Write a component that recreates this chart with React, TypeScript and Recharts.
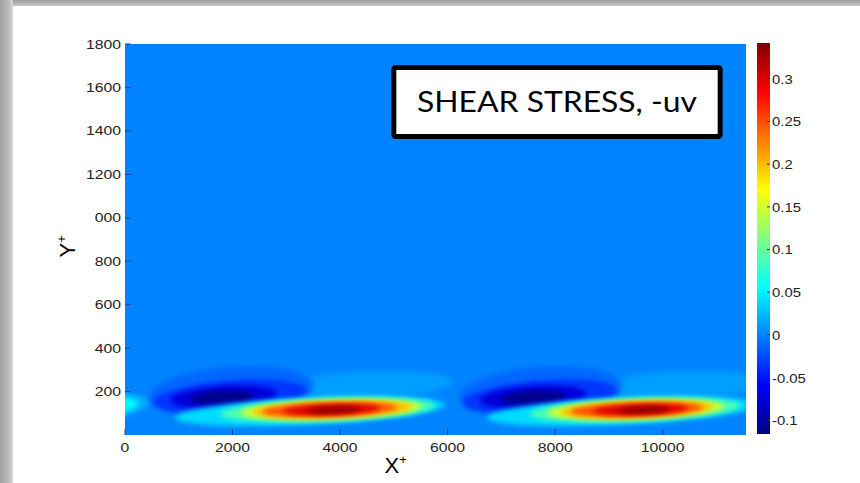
import React from 'react';
import { ComposedChart, BarChart, Bar, XAxis, YAxis, ReferenceArea } from 'recharts';

// contour rings: [xStart, xEnd, yAtStart, yAtEnd, halfDepth, value]
type Ring = number[];

const xTicks = [0, 2000, 4000, 6000, 8000, 10000];
const yTicks = [200, 400, 600, 800, 1000, 1200, 1400, 1600, 1800];
const yTickLabels = ['200', '400', '600', '800', '000', '1200', '1400', '1600', '1800'];
const cbTicks = [-0.1, -0.05, 0, 0.05, 0.1, 0.15, 0.2, 0.25, 0.3];
const cbTickLabels = ['-0.1', '-0.05', '0', '0.05', '0.1', '0.15', '0.2', '0.25', '0.3'];

const xMax = 11550;
const yMax = 1800;
const cbMin = -0.116;
const cbMax = 0.342;
const fieldBase = 0;

// tail of the previous wave entering at x = 0
const edgeTail: Ring[] = [
  [-1800, 450, 100, 150, 64, 0.02],
  [-1800, 250, 105, 145, 50, 0.055],
];

const liftHalo1: Ring[] = [[3000, 6100, 215, 245, 65, 0.012]];
const sweep1: Ring[] = [
  [450, 3500, 175, 225, 115, -0.012],
  [520, 3380, 150, 205, 74, -0.035],
  [840, 2830, 160, 190, 52, -0.075],
  [1210, 2390, 165, 180, 32, -0.11],
];
const burst1: Ring[] = [
  [930, 5950, 80, 140, 62, 0.04],
  [1770, 5770, 96, 136, 52, 0.09],
  [2140, 5520, 102, 132, 44, 0.15],
  [2360, 5340, 105, 130, 38, 0.2],
  [2550, 5060, 107, 128, 31, 0.25],
  [2940, 4740, 109, 124, 24, 0.3],
  [3380, 4370, 111, 120, 16, 0.335],
];

const liftHalo2: Ring[] = [[8800, 11900, 215, 245, 65, 0.012]];
const sweep2: Ring[] = [
  [6220, 9250, 175, 225, 115, -0.012],
  [6280, 9140, 150, 205, 74, -0.035],
  [6600, 8590, 160, 190, 52, -0.075],
  [6975, 8200, 165, 180, 32, -0.11],
];
const burst2: Ring[] = [
  [6730, 11750, 80, 140, 62, 0.04],
  [7530, 11450, 96, 136, 52, 0.09],
  [7850, 11150, 102, 132, 44, 0.15],
  [8090, 10940, 105, 130, 38, 0.2],
  [8280, 10750, 107, 128, 31, 0.25],
  [8700, 10470, 109, 124, 24, 0.3],
  [9150, 10140, 111, 120, 16, 0.335],
];

const noteText = 'SHEAR STRESS, -uv';
const noteBox = { x1: 5000, x2: 11070, y1: 1374, y2: 1692 };

const allRings = [...edgeTail, ...liftHalo1, ...liftHalo2, ...sweep1, ...sweep2, ...burst1, ...burst2];

const jet = (v: number) => {
  const t = Math.min(1, Math.max(0, (v - cbMin) / (cbMax - cbMin)));
  const c = (k: number) => Math.round(255 * Math.min(1, Math.max(0, 1.5 - Math.abs(4 * t - k))));
  return `rgb(${c(3)},${c(2)},${c(1)})`;
};

const jetStops = [1, 0.875, 0.625, 0.375, 0.125, 0];
const jetStopColors = ['#800000', '#ff0000', '#ffff00', '#00ffff', '#0000ff', '#000080'];

const FONT = '"Liberation Sans", Arial, sans-serif';

// sheared ellipse, sized from the rect that recharts computed for the ring's extent
const RingShape = (p: any) => {
  const { x, y, width, height, ring, clipPath } = p;
  const [x0, x1, yl, yr, h, v] = ring;
  const yTop = Math.max(yl, yr) + h;
  const yBot = Math.min(yl, yr) - h;
  const kx = width / (x1 - x0);
  const ky = height / (yTop - yBot);
  const cx = (x0 + x1) / 2;
  const a = (x1 - x0) / 2;
  const pts: string[] = [];
  for (let i = 0; i < 90; i++) {
    const th = (i / 90) * Math.PI * 2;
    const dx = cx + a * Math.cos(th);
    const mid = yl + ((yr - yl) * (dx - x0)) / (x1 - x0);
    const dy = mid + h * Math.sin(th);
    pts.push(`${(x + (dx - x0) * kx).toFixed(2)},${(y + (yTop - dy) * ky).toFixed(2)}`);
  }
  return (
    <g clipPath={clipPath}>
      <polygon points={pts.join(' ')} fill={jet(v)} filter="url(#soften)" />
    </g>
  );
};

const NoteShape = (p: any) => {
  const { x, y, width, height } = p;
  return (
    <g>
      <rect x={x} y={y} width={width} height={height} rx={2} fill="#fff" stroke="#000" strokeWidth={5} />
      <text
        x={x + width / 2}
        y={y + height / 2 + 10}
        textAnchor="middle"
        fontFamily="Lato, 'Open Sans', sans-serif"
        fontSize={28}
        textLength={280}
        lengthAdjust="spacingAndGlyphs"
        fill="#000"
      >
        {noteText}
      </text>
    </g>
  );
};

const StretchTick = (p: any) => {
  const { x, y, payload, anchor, labels, values, dy, size, sx } = p;
  const idx = values.indexOf(payload.value);
  const label = idx >= 0 ? labels[idx] : String(payload.value);
  return (
    <g transform={`translate(${x},${y}) scale(${sx},1)`}>
      <text x={0} y={0} dy={dy} textAnchor={anchor} fontFamily={FONT} fontSize={size} fill="#222">
        {label}
      </text>
    </g>
  );
};

const YLabel = (p: any) => {
  const vb = p.viewBox;
  const lx = vb.x + 10;
  const ly = vb.y + vb.height / 2 + 18;
  return (
    <text x={lx} y={ly} transform={`rotate(-90, ${lx}, ${ly})`} fontFamily={FONT} fontSize={22} fill="#000">
      <tspan>Y</tspan>
      <tspan dy={-9} fontSize={13}>+</tspan>
    </text>
  );
};

const XLabel = (p: any) => {
  const vb = p.viewBox;
  const lx = vb.x + vb.width * 0.418;
  const ly = vb.y + 38;
  return (
    <text x={lx} y={ly} fontFamily={FONT} fontSize={22} fill="#000">
      <tspan>X</tspan>
      <tspan dy={-9} fontSize={13}>+</tspan>
    </text>
  );
};

const cbData = [{ name: 'cb', span: [cbMin, cbMax] }];

export default function App() {
  return (
    <div style={{ position: 'fixed', left: 0, top: 0, width: 860, height: 483, background: '#fff', overflow: 'hidden' }}>
      <div style={{ position: 'absolute', left: 0, top: 0 }}>
        <ComposedChart width={860} height={483} margin={{ top: 44, right: 114, bottom: 18, left: 65 }}>
          <defs>
            <filter id="soften" filterUnits="userSpaceOnUse" x={0} y={0} width={860} height={483}>
              <feGaussianBlur stdDeviation={2.4} />
            </filter>
          </defs>
          <XAxis
            xAxisId="b"
            type="number"
            dataKey="x"
            domain={[0, xMax]}
            allowDataOverflow
            ticks={xTicks}
            height={30}
            axisLine={false}
            tickSize={-6}
            tickMargin={14}
            tickLine={{ stroke: '#1b3f8f', strokeWidth: 1 }}
            tick={<StretchTick anchor="middle" dy="0.71em" size={12.5} sx={1.26} values={xTicks} labels={xTicks.map(String)} />}
            label={<XLabel />}
          />
          <XAxis
            xAxisId="t"
            orientation="top"
            type="number"
            domain={[0, xMax]}
            allowDataOverflow
            ticks={xTicks}
            height={0}
            axisLine={false}
            tickSize={-6}
            tickLine={{ stroke: '#1b3f8f', strokeWidth: 1 }}
            tick={false}
          />
          <YAxis
            yAxisId="l"
            type="number"
            domain={[0, yMax]}
            allowDataOverflow
            ticks={yTicks}
            width={60}
            axisLine={false}
            tickSize={-6}
            tickMargin={10}
            tickLine={{ stroke: '#1b3f8f', strokeWidth: 1 }}
            tick={<StretchTick anchor="end" dy="0.36em" size={12.5} sx={1.26} values={yTicks} labels={yTickLabels} />}
            label={<YLabel />}
          />
          <YAxis
            yAxisId="r"
            orientation="right"
            type="number"
            domain={[0, yMax]}
            allowDataOverflow
            ticks={yTicks}
            width={0}
            axisLine={false}
            tickSize={-6}
            tickLine={{ stroke: '#1b3f8f', strokeWidth: 1 }}
            tick={false}
          />
          <ReferenceArea xAxisId="b" yAxisId="l" x1={0} x2={xMax} y1={0} y2={yMax} fill={jet(fieldBase)} fillOpacity={1} stroke="none" ifOverflow="hidden" />
          {allRings.map((r, i) => (
            <ReferenceArea
              key={i}
              xAxisId="b"
              yAxisId="l"
              x1={r[0]}
              x2={r[1]}
              y1={Math.min(r[2], r[3]) - r[4]}
              y2={Math.max(r[2], r[3]) + r[4]}
              ifOverflow="hidden"
              shape={(p: any) => <RingShape {...p} ring={r} />}
            />
          ))}
          <ReferenceArea
            xAxisId="b"
            yAxisId="l"
            x1={noteBox.x1}
            x2={noteBox.x2}
            y1={noteBox.y1}
            y2={noteBox.y2}
            ifOverflow="visible"
            shape={(p: any) => <NoteShape {...p} />}
          />
        </ComposedChart>
      </div>

      <div style={{ position: 'absolute', left: 0, top: 0 }}>
        <BarChart width={860} height={483} data={cbData} margin={{ top: 43, right: 10, bottom: 49, left: 757 }} barCategoryGap={0}>
          <defs>
            <linearGradient id="jetGrad" x1="0" y1="0" x2="0" y2="1">
              {jetStops.map((s, i) => (
                <stop key={i} offset={1 - s} stopColor={jetStopColors[i]} />
              ))}
            </linearGradient>
          </defs>
          <XAxis dataKey="name" hide />
          <YAxis
            orientation="right"
            type="number"
            domain={[cbMin, cbMax]}
            allowDataOverflow
            ticks={cbTicks}
            width={80}
            axisLine={false}
            tickSize={-3}
            tickMargin={5}
            tickLine={{ stroke: '#333', strokeWidth: 1 }}
            tick={<StretchTick anchor="start" dy="0.36em" size={13.5} sx={1.1} values={cbTicks} labels={cbTickLabels} />}
          />
          <Bar dataKey="span" fill="url(#jetGrad)" isAnimationActive={false} />
        </BarChart>
      </div>

      <div style={{ position: 'absolute', left: 0, top: 0, width: 860, height: 6, background: 'linear-gradient(#9c9c9c, #c8c8c8)', pointerEvents: 'none' }} />
      <div style={{ position: 'absolute', left: 0, top: 0, width: 13, height: 483, background: 'linear-gradient(90deg, #a0a0a0, #b8b8b8 60%, #d8d8d8)', pointerEvents: 'none' }} />
    </div>
  );
}
